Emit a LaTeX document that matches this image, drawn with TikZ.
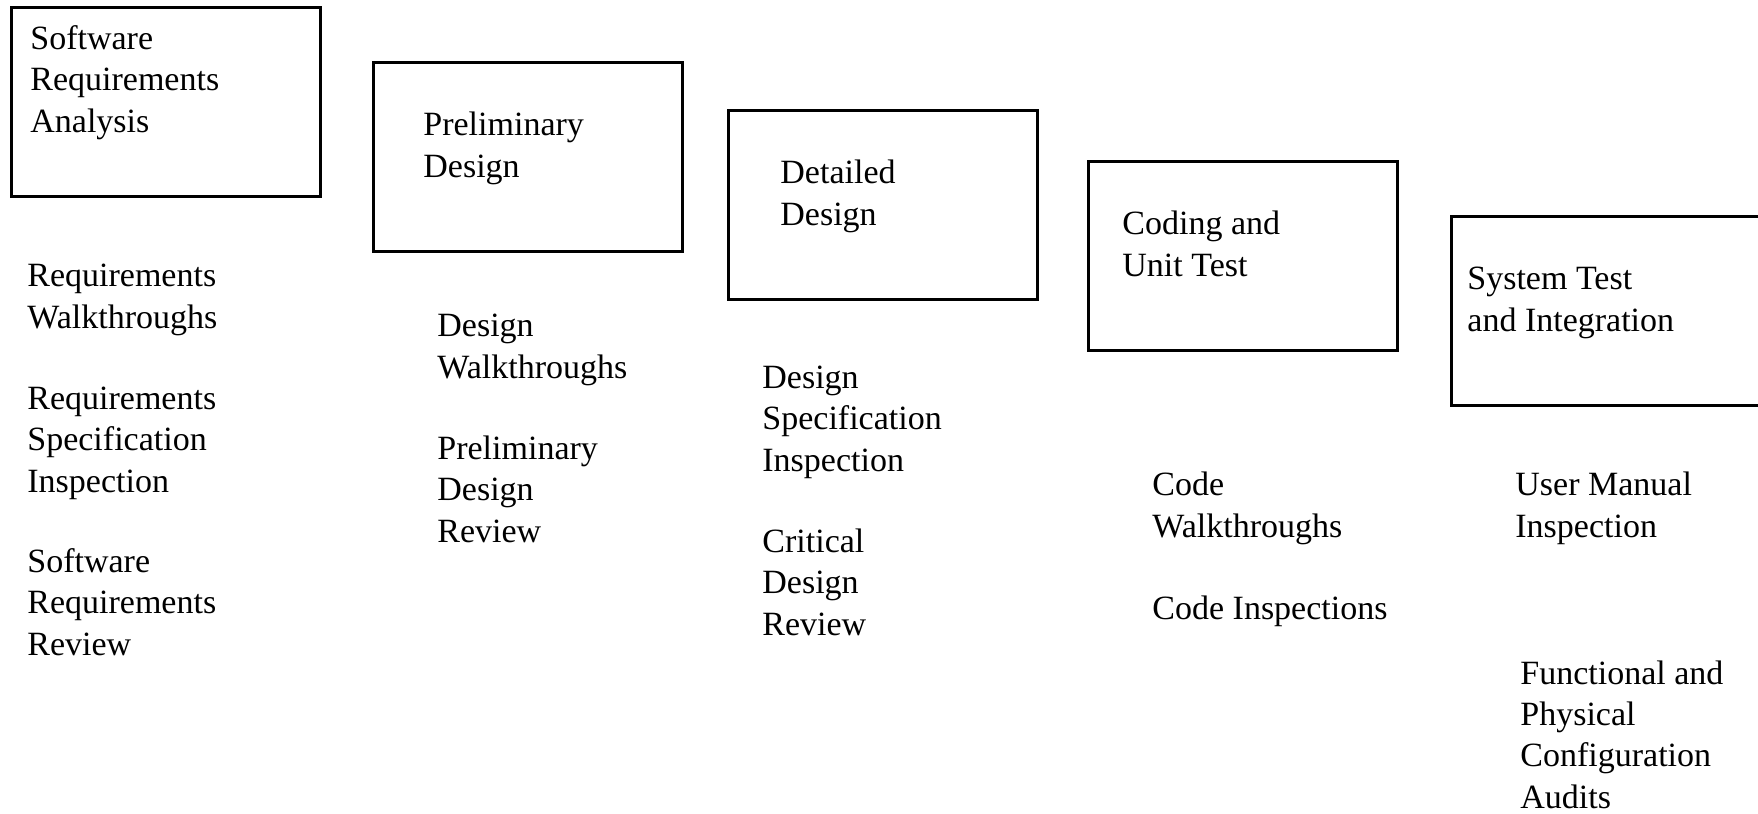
\documentclass[tikz,border=0pt]{standalone}
\usepackage{fontspec}
\setmainfont{Liberation Serif}
\begin{document}
\begin{tikzpicture}[x=0.5pt,y=-0.5pt,
  box/.style={draw, line width=1.45pt, inner sep=0pt, anchor=north west,
              minimum width=154.5pt, minimum height=94.5pt},
  txt/.style={anchor=base west, align=left, inner sep=0pt,
              font=\fontsize{17}{20.6}\selectfont}]
\useasboundingbox (0,0) rectangle (1758,814);
% phase boxes
\node[box] (b1) at (10,6) {};
\node[box] (b2) at (372,61) {};
\node[box] (b3) at (727,109) {};
\node[box] (b4) at (1087,160) {};
\node[box] (b5) at (1450,215) {};
% box labels (anchored at the baseline of the last line)
\node[txt] (l1) at (30,132) {Software\\Requirements\\Analysis};
\node[txt] (l2) at (423,177) {Preliminary\\Design};
\node[txt] (l3) at (780,225) {Detailed\\Design};
\node[txt] (l4) at (1122,276) {Coding and\\Unit Test};
\node[txt] (l5) at (1467,331) {System Test\\and Integration};
% activities
\node[txt] (a1) at (27,328) {Requirements\\Walkthroughs};
\node[txt] (a2) at (27,492) {Requirements\\Specification\\Inspection};
\node[txt] (a3) at (27,655) {Software\\Requirements\\Review};
\node[txt] (a4) at (437,378) {Design\\Walkthroughs};
\node[txt] (a5) at (437,542) {Preliminary\\Design\\Review};
\node[txt] (a6) at (762,471) {Design\\Specification\\Inspection};
\node[txt] (a7) at (762,635) {Critical\\Design\\Review};
\node[txt] (a8) at (1152,537) {Code\\Walkthroughs};
\node[txt] (a9) at (1152,619) {Code Inspections};
\node[txt] (a10) at (1515,537) {User Manual\\Inspection};
\node[txt] (a11) at (1520,808) {Functional and\\Physical\\Configuration\\Audits};
\end{tikzpicture}
\end{document}
